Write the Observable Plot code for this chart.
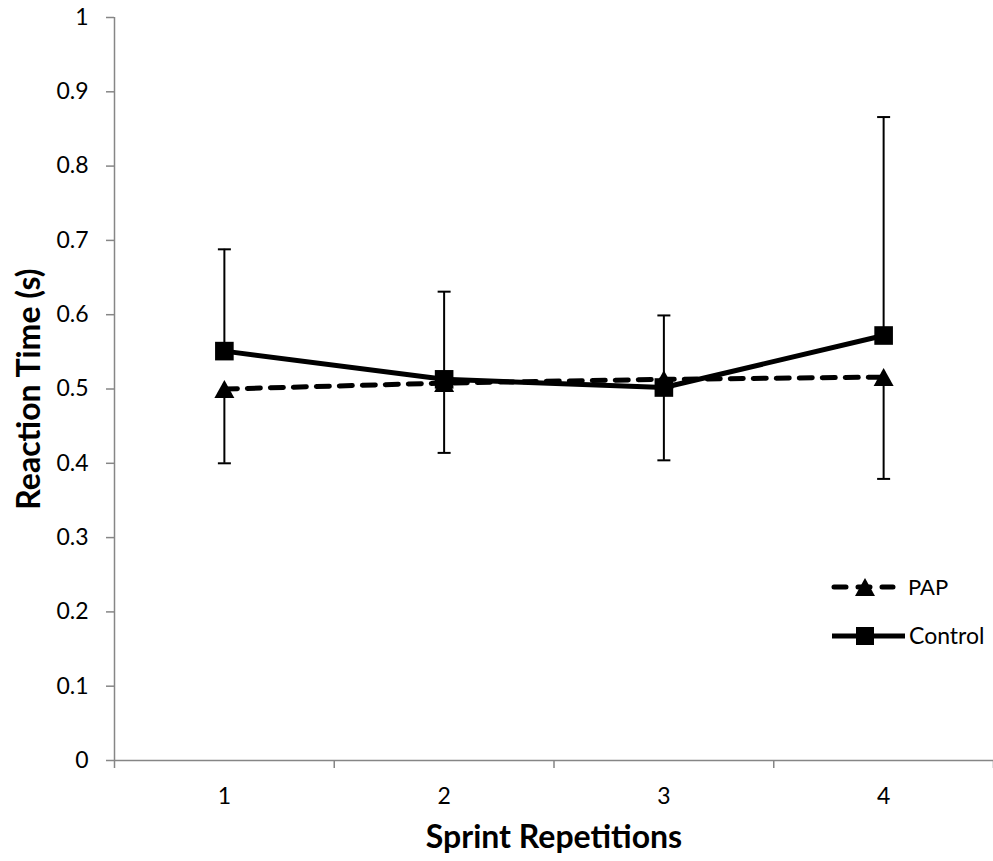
<!DOCTYPE html>
<html>
<head>
<meta charset="utf-8">
<script src="https://cdn.jsdelivr.net/npm/d3@7"></script>
<script src="https://cdn.jsdelivr.net/npm/@observablehq/plot@0.6"></script>
<style>
  html, body { margin: 0; padding: 0; background: #fff; }
  #wrap { position: relative; width: 993px; height: 861px; }
  #legend { position: absolute; left: 0; top: 0; pointer-events: none; }
</style>
</head>
<body>
<div id="wrap"></div>
<script>
// ---- data ----
const reps = [1, 2, 3, 4];
const xTickLabels = ["1", "2", "3", "4"];
const seriesNames = ["PAP", "Control"];
const papMean = [0.500, 0.508, 0.513, 0.516];
const papLower = [0.400, 0.414, 0.404, 0.379];
const controlMean = [0.551, 0.513, 0.502, 0.572];
const controlUpper = [0.688, 0.631, 0.599, 0.866];
const yTicks = [0, 0.1, 0.2, 0.3, 0.4, 0.5, 0.6, 0.7, 0.8, 0.9, 1];
const yTickLabels = ["0", "0.1", "0.2", "0.3", "0.4", "0.5", "0.6", "0.7", "0.8", "0.9", "1"];
const xTitle = "Sprint Repetitions";
const yTitle = "Reaction Time (s)";

// ---- tables ----
const pap = reps.map((r, i) => ({rep: r, mean: papMean[i], lo: papLower[i]}));
const control = reps.map((r, i) => ({rep: r, mean: controlMean[i], hi: controlUpper[i]}));
const bounds = [reps[0] - 0.5, ...reps.map(r => r + 0.5)];
const xMin = bounds[0], xMax = bounds[bounds.length - 1];

const FONT = "Lato, 'Open Sans', sans-serif";
const AXIS = "#868686";

const triangle = {
  draw(ctx, size) {
    const a = Math.sqrt(size / Math.PI);
    ctx.moveTo(0, -a * 0.9);
    ctx.lineTo(a, a * 0.9);
    ctx.lineTo(-a, a * 0.9);
    ctx.closePath();
  }
};
const cap = {
  draw(ctx, size) {
    const a = Math.sqrt(size / Math.PI);
    ctx.moveTo(-a, 0);
    ctx.lineTo(a, 0);
  }
};

const chart = Plot.plot({
  width: 993,
  height: 861,
  marginLeft: 114,
  marginRight: 0,
  marginTop: 17,
  marginBottom: 101,
  style: {fontFamily: FONT, fontSize: "23px", background: "#fff", color: "#000"},
  x: {domain: [xMin, xMax], axis: null},
  y: {domain: [0, 1], axis: null},
  marks: [
    // axis lines
    Plot.ruleY([0], {x1: xMin, x2: xMax, stroke: AXIS, strokeWidth: 1.5}),
    Plot.ruleX([xMin], {y1: 0, y2: 1, stroke: AXIS, strokeWidth: 1.5}),
    // tick marks
    Plot.axisY(yTicks, {anchor: "left", tickSize: 8, tickFormat: () => "", stroke: AXIS, strokeWidth: 1.5, label: null}),
    Plot.axisX(bounds, {anchor: "bottom", tickSize: 8, tickFormat: () => "", stroke: AXIS, strokeWidth: 1.5, label: null}),
    // tick labels
    Plot.text(yTicks, {x: xMin, y: d => d, text: (d, i) => yTickLabels[i], textAnchor: "end", lineAnchor: "middle", dx: -26, fontSize: 23, fill: "#000"}),
    Plot.text(reps, {x: d => d, y: 0, text: (d, i) => xTickLabels[i], textAnchor: "middle", lineAnchor: "middle", dy: 36, fontSize: 23, fill: "#000"}),
    // titles
    Plot.text([xTitle], {frameAnchor: "bottom", lineAnchor: "middle", textAnchor: "middle", dy: 77, fontSize: 32, fontWeight: "bold", fill: "#000"}),
    Plot.text([yTitle], {frameAnchor: "left", lineAnchor: "middle", textAnchor: "middle", dx: -85, rotate: -90, fontSize: 32, fontWeight: "bold", fill: "#000"}),
    // error bars
    Plot.ruleX(pap, {x: "rep", y1: "lo", y2: "mean", stroke: "#000", strokeWidth: 2}),
    Plot.dot(pap, {x: "rep", y: "lo", symbol: cap, r: 6.5, stroke: "#000", strokeWidth: 2, fill: "none"}),
    Plot.ruleX(control, {x: "rep", y1: "mean", y2: "hi", stroke: "#000", strokeWidth: 2}),
    Plot.dot(control, {x: "rep", y: "hi", symbol: cap, r: 6.5, stroke: "#000", strokeWidth: 2, fill: "none"}),
    // lines
    Plot.line(pap, {x: "rep", y: "mean", stroke: "#000", strokeWidth: 5, strokeDasharray: "13,10", strokeLinecap: "round"}),
    Plot.line(control, {x: "rep", y: "mean", stroke: "#000", strokeWidth: 5}),
    // markers
    Plot.dot(pap, {x: "rep", y: "mean", symbol: triangle, r: 10, fill: "#000", stroke: "none"}),
    Plot.dot(control, {x: "rep", y: "mean", symbol: "square", r: 10.5, fill: "#000", stroke: "none"})
  ]
});

const wrap = document.getElementById("wrap");
wrap.appendChild(chart);

// ---- legend (overlay, inside the plot area as in the original) ----
const ns = "http://www.w3.org/2000/svg";
const leg = document.createElementNS(ns, "svg");
leg.setAttribute("id", "legend");
leg.setAttribute("width", 993);
leg.setAttribute("height", 861);
leg.style.fontFamily = FONT;
leg.innerHTML = `
  <g>
    <line x1="834" y1="587" x2="893" y2="587" stroke="#000" stroke-width="5" stroke-dasharray="12,12" stroke-linecap="round"/>
    <path d="M865,578 L875,596 L855,596 Z" fill="#000"/>
    <text x="908" y="587" dy="0.35em" font-size="22" fill="#000">${seriesNames[0]}</text>
  </g>
  <g>
    <line x1="832" y1="636" x2="905" y2="636" stroke="#000" stroke-width="5"/>
    <rect x="856" y="627" width="18" height="18" fill="#000"/>
    <text x="909" y="636" dy="0.35em" font-size="23" fill="#000">${seriesNames[1]}</text>
  </g>`;
wrap.appendChild(leg);
</script>
</body>
</html>
